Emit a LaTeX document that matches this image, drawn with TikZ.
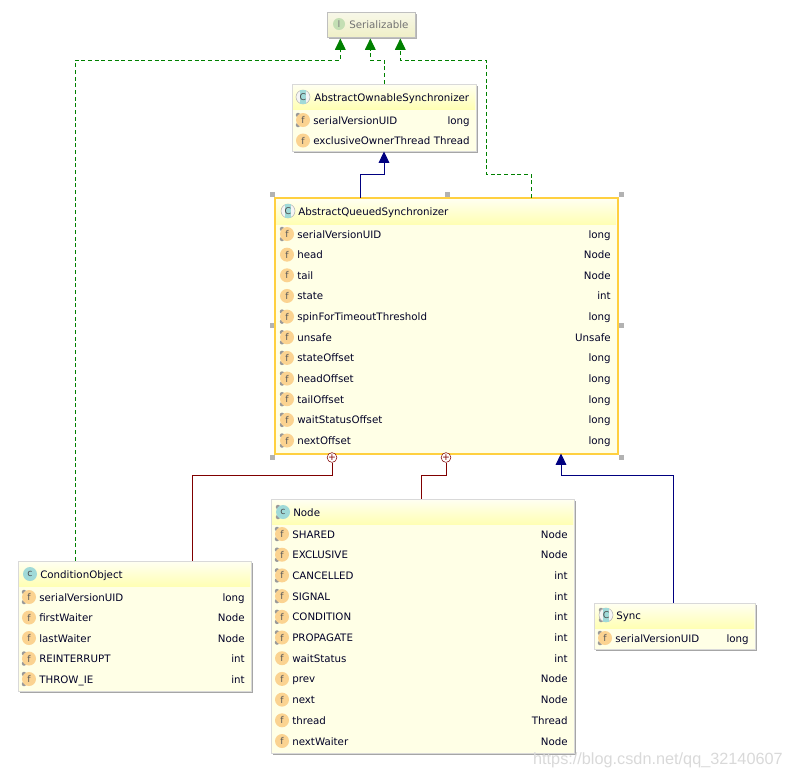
\documentclass[tikz,border=0pt]{standalone}
\usepackage{fontspec}
\setmainfont{DejaVu Sans}
\usepackage{xcolor}
\usetikzlibrary{arrows.meta,positioning,fit,shadows,calc}

\definecolor{boxfill}{HTML}{FFFFE6}
\definecolor{headtop}{HTML}{FFFFF0}
\definecolor{headbot}{HTML}{FFFFB4}
\definecolor{iconor}{HTML}{FBD391}
\definecolor{icontl}{HTML}{A0DAD8}
\definecolor{icongr}{HTML}{C4DFB4}
\definecolor{implgr}{HTML}{008000}
\definecolor{extbl}{HTML}{000080}
\definecolor{innerrd}{HTML}{800000}
\definecolor{selyl}{HTML}{FFD040}
\def\px{0.75pt}

\tikzset{
 classbox/.style={draw=black!15,line width=0.75pt,fill=boxfill,inner sep=0pt,
  drop shadow={shadow xshift=1.3pt,shadow yshift=-1.3pt,fill=black!35,opacity=1}},
 headbox/.style={inner sep=0pt,top color=headtop,bottom color=headbot},
 member/.style={anchor=base west,inner sep=0pt,text=black!85!blue},
 typename/.style={anchor=base east,inner sep=0pt,text=black!85!blue},
 fieldicon/.style={circle,fill=iconor,minimum size=14*\px,inner sep=0pt,font=\fontsize{7}{7}\selectfont,text=black!65},
 classicon/.style={circle,fill=icontl,minimum size=14*\px,inner sep=0pt,font=\fontsize{7}{7}\selectfont,text=black!70},
 abstracticon/.style={circle,draw=black!30,fill=black!4,minimum size=14*\px,inner sep=0pt},
 abstractbar/.style={fill=icontl,minimum width=6*\px,minimum height=14*\px,inner sep=0pt,font=\fontsize{7}{7}\selectfont,text=black!70},
 pinmark/.style={circle,fill=black!40,minimum size=4.5*\px,inner sep=0pt},
 handle/.style={fill=black!30,minimum size=5*\px,inner sep=0pt},
 implements/.style={draw=implgr,dashed,line width=0.75pt,dash pattern=on 3pt off 2pt,-{Triangle[length=8.5pt,width=8pt,fill=implgr]}},
 extends/.style={draw=extbl,line width=0.75pt,-{Triangle[length=8.5pt,width=8pt,fill=extbl]}},
 innerline/.style={draw=innerrd,line width=0.75pt},
 innermark/.style={circle,draw=innerrd,fill=white,minimum size=8.5*\px,inner sep=0pt,text=innerrd,font=\fontsize{7}{7}\selectfont}
}

% class name, x1, y1, x2, y2, y of the line below the title
\newcommand{\classshape}[6]{
 \node[classbox,fit={(#2,#3)(#4,#5)}] (#1) {};
 \node[headbox,fit={(#2+1,#3+1)(#4-1,#6)}] (#1-head) {};
}
% pins of a static member, at the left of its icon
\newcommand{\pins}[3]{
 \node[pinmark] (#1-pa) at (#2-5,#3-5) {};
 \node[pinmark] (#1-pb) at (#2-5,#3+5) {};
}
% class name, icon x, right x, first base line, line step, list of kind/label/type
\newcommand{\fieldrows}[6]{
 \foreach \kind/\fname/\ftype [count=\i from 0] in {#6} {
  \if\kind s \pins{#1-i\i}{#2}{#4-4+\i*#5} \fi
  \node[fieldicon] (#1-i\i) at (#2,#4-4+\i*#5) {f};
  \node[member] (#1-n\i) at (#2+10,#4+\i*#5) {\fname};
  \node[typename] (#1-t\i) at (#3,#4+\i*#5) {\ftype};
 }
}

\begin{document}
\begin{tikzpicture}[x=\px,y=-\px,font=\fontsize{7.7}{9}\selectfont]
\useasboundingbox (0,0) rectangle (791,776);

% Serializable
\node[draw=black!25,line width=0.75pt,top color=black!3!headtop,bottom color=black!10!headbot!60,inner sep=0pt,fit={(327,12)(415,37)},
 drop shadow={shadow xshift=1.3pt,shadow yshift=-1.3pt,fill=black!30,opacity=1}] (ser) {};
\node[classicon,fill=icongr,text=black!50,minimum size=12*\px] (ser-ic) at (339,24) {I};
\node[member,text=black!55] (ser-nm) at (349,28) {Serializable};

% AbstractOwnableSynchronizer
\classshape{aos}{292}{84}{476}{151}{109}
\node[abstracticon] (aos-ic) at (303,97) {};
\node[abstractbar] (aos-c) at (303,97) {C};
\node[member] (aos-nm) at (314,101) {AbstractOwnableSynchronizer};
\fieldrows{aos}{303}{470}{124}{20.5}{s/serialVersionUID/long,f/exclusiveOwnerThread/Thread}

% AbstractQueuedSynchronizer
\foreach \hx/\hy [count=\i] in {272/194,447/194,621/194,272/325,621/325,272/457,621/457}
 \node[handle] (h\i) at (\hx,\hy) {};
\classshape{aqs}{275}{198}{617}{453}{224}
\draw[selyl,line width=1.5pt] (aqs.north west) rectangle (aqs.south east);
\node[abstracticon] (aqs-ic) at (288,211) {};
\node[abstractbar] (aqs-c) at (288,211) {C};
\node[member] (aqs-nm) at (298,215) {AbstractQueuedSynchronizer};
\fieldrows{aqs}{287}{611}{238}{20.65}{s/serialVersionUID/long,f/head/Node,f/tail/Node,f/state/int,s/spinForTimeoutThreshold/long,s/unsafe/Unsafe,s/stateOffset/long,s/headOffset/long,s/tailOffset/long,s/waitStatusOffset/long,s/nextOffset/long}

% ConditionObject
\classshape{co}{18}{561}{251}{691}{586}
\node[classicon] (co-ic) at (30,574) {c};
\node[member] (co-nm) at (40,578) {ConditionObject};
\fieldrows{co}{29}{245}{601}{20.5}{s/serialVersionUID/long,f/firstWaiter/Node,f/lastWaiter/Node,s/REINTERRUPT/int,s/THROW\_IE/int}

% Node
\classshape{node}{271}{499}{574}{753}{524}
\pins{node-ic}{283}{512}
\node[classicon] (node-ic) at (283,512) {c};
\node[member] (node-nm) at (293,516) {Node};
\fieldrows{node}{282}{568}{538}{20.7}{s/SHARED/Node,s/EXCLUSIVE/Node,s/CANCELLED/int,s/SIGNAL/int,s/CONDITION/int,s/PROPAGATE/int,f/waitStatus/int,f/prev/Node,f/next/Node,f/thread/Thread,f/nextWaiter/Node}

% Sync
\classshape{sync}{594}{603}{755}{649}{628}
\pins{sync-ic}{606}{615}
\node[abstracticon] (sync-ic) at (606,615) {};
\node[abstractbar] (sync-c) at (606,615) {C};
\node[member] (sync-nm) at (616,619) {Sync};
\fieldrows{sync}{605}{749}{642}{20.5}{s/serialVersionUID/long}

% end points on the boxes
\coordinate (serL) at ([xshift=-30.7*\px,yshift=-1*\px]ser.south);
\coordinate (serM) at ([xshift=-0.7*\px,yshift=-1*\px]ser.south);
\coordinate (serR) at ([xshift=29.3*\px,yshift=-1*\px]ser.south);
\coordinate (coL) at ([xshift=-59.5*\px]co.north);
\coordinate (coR) at ([xshift=57.5*\px]co.north);
\coordinate (aqsL) at ([xshift=-86*\px]aqs.north);
\coordinate (aqsR) at ([xshift=85*\px]aqs.north);
\coordinate (aqsB) at ([xshift=115*\px]aqs.south);
\coordinate (nodeT) at ([xshift=-1.5*\px]node.north);
\coordinate (syncT) at ([xshift=-1.5*\px]sync.north);
\node[innermark] (mkco) at ([xshift=-114*\px,yshift=-4*\px]aqs.south) {+};
\node[innermark] (mknode) at ([yshift=-4*\px]aqs.south) {+};

\draw[implements] (coL) -- (coL |- 0,60) -| (serL);
\draw[implements] (aos.north) -- (aos.north |- 0,60) -| (serM);
\draw[implements] (aqsR) -- (aqsR |- 0,174) -- (486,174) -- (486,60) -| (serR);
\draw[extends] (aqsL) -- (aqsL |- 0,174) -| (aos.south);
\draw[innerline] (coR) -- (coR |- 0,475) -| (mkco);
\draw[innerline] (nodeT) -- (nodeT |- 0,475) -| (mknode);
\draw[extends] (syncT) -- (syncT |- 0,475) -| (aqsB);

\node[font=\fontsize{12.2}{14}\selectfont\fontspec{Liberation Sans},text=black!15,anchor=base east,inner sep=0pt] (mark) at (783,764) {https://blog.csdn.net/qq\_32140607};
\end{tikzpicture}
\end{document}
